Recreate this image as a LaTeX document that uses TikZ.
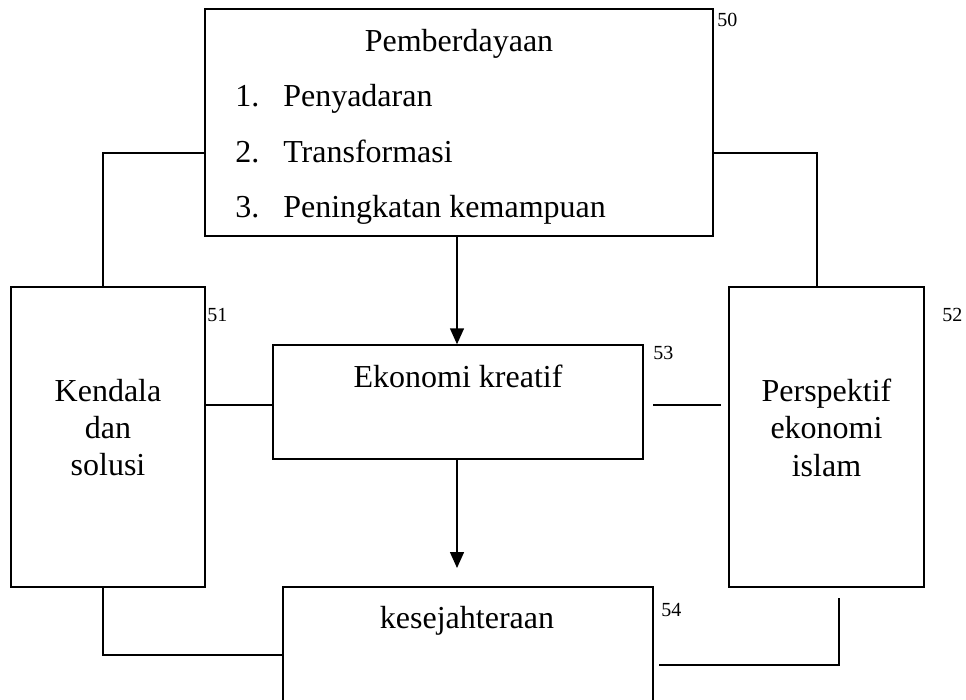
\documentclass[tikz,border=0pt]{standalone}
\usepackage{fontspec}
\setmainfont{Liberation Serif}
\usetikzlibrary{fit,calc,arrows.meta}
\begin{document}
\begin{tikzpicture}[x=0.75pt,y=-0.75pt,
  box/.style={draw, line width=1.1pt, inner sep=0pt},
  txt/.style={inner sep=0pt, font=\fontsize{24}{28}\selectfont},
  num/.style={inner sep=0pt, anchor=base west, font=\fontsize{15}{18}\selectfont},
  ln/.style={line width=1.1pt},
  arr/.style={line width=1.1pt, -{Triangle[length=12pt,width=10.5pt]}}]
\clip (0,0) rectangle (966,699);
% boxes
\node[box, fit={(205,9) (713,236)}] (T) {};
\node[box, fit={(11,287) (205,587)}] (L) {};
\node[box, fit={(729,287) (924,587)}] (R) {};
\node[box, fit={(273,345) (643,459)}] (M) {};
\node[box, fit={(283,587) (653,730)}] (B) {};
% top box text
\node[txt, anchor=base] (t0) at (459,52) {Pemberdayaan};
\node[txt, anchor=base west] (t1n) at (235,106) {1.};
\node[txt, anchor=base west] (t1) at (283,106) {Penyadaran};
\node[txt, anchor=base west] (t2n) at (235,162) {2.};
\node[txt, anchor=base west] (t2) at (283,162) {Transformasi};
\node[txt, anchor=base west] (t3n) at (235,217) {3.};
\node[txt, anchor=base west] (t3) at (283,217) {Peningkatan kemampuan};
% left box text
\node[txt, anchor=base] (l1) at (108,401) {Kendala};
\node[txt, anchor=base] (l2) at (108,438) {dan};
\node[txt, anchor=base] (l3) at (108,475) {solusi};
% right box text
\node[txt, anchor=base] (r1) at (826.5,401) {Perspektif};
\node[txt, anchor=base] (r2) at (826.5,438) {ekonomi};
\node[txt, anchor=base] (r3) at (826.5,476) {islam};
% middle and bottom
\node[txt, anchor=base] (m1) at (458,387) {Ekonomi kreatif};
\node[txt, anchor=base] (b1) at (467,628) {kesejahteraan};
% numbers
\node[num] (n50) at (717,27) {50};
\node[num] (n51) at (207,321) {51};
\node[num] (n52) at (942,321) {52};
\node[num] (n53) at (653,359) {53};
\node[num] (n54) at (661,616) {54};
% connectors
\draw[ln] (T.west |- 0,153) -| (L.north -| 103,0);
\draw[ln] (T.east |- 0,153) -| (R.north -| 817,0);
\draw[arr] (T.south -| 457,0) -- (M.north -| 457,0);
\coordinate (a2end) at (457,568);
\draw[arr] (M.south -| 457,0) -- (a2end);
\draw[ln] (L.east |- 0,405) -- (M.west |- 0,405);
\coordinate (mr1) at (653,405);
\coordinate (mr2) at (721,405);
\draw[ln] (mr1) -- (mr2);
\draw[ln] (L.south -| 103,0) |- (B.west |- 0,655);
\coordinate (rb1) at (839,598);
\coordinate (rb2) at (659,665);
\draw[ln] (rb1) |- (rb2);
\end{tikzpicture}
\end{document}
